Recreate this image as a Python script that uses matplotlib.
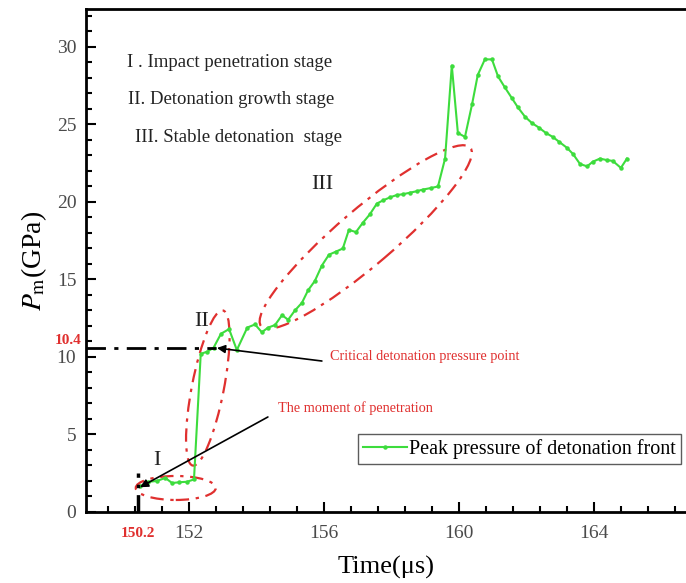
import matplotlib
matplotlib.use("Agg")
import matplotlib.pyplot as plt
from matplotlib.patches import Ellipse
from matplotlib.transforms import IdentityTransform, blended_transform_factory
from matplotlib.ticker import MultipleLocator, AutoMinorLocator

plt.rcParams["font.family"] = ["Liberation Serif", "DejaVu Serif"]
plt.rcParams["mathtext.fontset"] = "stix"

# peak pressure of the detonation front
time_us = [150.55, 150.8, 151.05, 151.3, 151.5, 151.72, 151.94, 152.15,
           152.35, 152.55, 152.73, 152.95, 153.19, 153.42, 153.73, 153.96,
           154.16, 154.35, 154.55, 154.76, 154.94, 155.14, 155.35, 155.53,
           155.73, 155.94, 156.15, 156.36, 156.56, 156.74, 156.95, 157.15,
           157.36, 157.57, 157.75, 157.96, 158.16, 158.34, 158.55, 158.76,
           158.93, 159.17, 159.38, 159.59, 159.79, 159.97, 160.18, 160.39,
           160.56, 160.77, 160.98, 161.16, 161.36, 161.57, 161.75, 161.96,
           162.16, 162.37, 162.58, 162.78, 162.96, 163.2, 163.38, 163.59,
           163.8, 163.97, 164.18, 164.39, 164.56, 164.8, 164.98]
pressure_gpa = [1.65, 1.95, 2.0, 2.2, 1.87, 1.92, 1.95, 2.1,
                10.2, 10.35, 10.6, 11.5, 11.8, 10.45, 11.9, 12.1,
                11.6, 11.9, 12.06, 12.7, 12.4, 13.0, 13.5, 14.3,
                14.9, 15.9, 16.6, 16.8, 17.0, 18.2, 18.06, 18.65,
                19.2, 19.9, 20.1, 20.3, 20.45, 20.5, 20.6, 20.7,
                20.8, 20.9, 21.0, 22.8, 28.8, 24.45, 24.2, 26.3,
                28.2, 29.2, 29.2, 28.1, 27.4, 26.7, 26.1, 25.5,
                25.1, 24.8, 24.45, 24.2, 23.9, 23.5, 23.1, 22.45,
                22.3, 22.6, 22.8, 22.7, 22.65, 22.2, 22.8]

x_ticks = [152, 156, 160, 164]
y_ticks = [0, 5, 10, 15, 20, 25, 30]

# key points marked on the chart
t_penetration = 150.5       # where "150.2" is drawn
p_critical = 10.55          # where "10.4" is drawn
penetration_label = "150.2"
critical_label = "10.4"

stage_notes = ["I . Impact penetration stage",
               "II. Detonation growth stage",
               "III. Stable detonation  stage"]
stage_names = ["I", "II", "III"]
stage_name_pos = [(151.05, 3.35), (152.39, 12.3), (155.94, 21.1)]

# stage ellipses: centre (data), width/height in px, angle in deg
stage_ellipses = [((151.61, 1.55), 80, 24, 0),
                  ((152.56, 8.0), 158, 32, 79),
                  ((157.24, 17.74), 275, 56, 40.5)]

GREEN = "#3ddc3d"
RED = "#e0302f"

fig = plt.figure(figsize=(6.86, 5.83), dpi=100)
ax = fig.add_axes([86 / 686, 1 - 512 / 583, 600 / 686, 503 / 583])

ax.plot(time_us, pressure_gpa, color=GREEN, lw=1.5, marker="o", ms=2.2,
        label="Peak pressure of detonation front")

ax.set_xlim(148.95, 166.73)
ax.set_ylim(0, 32.45)
ax.xaxis.set_major_locator(MultipleLocator(4))
ax.xaxis.set_minor_locator(AutoMinorLocator(5))
ax.set_xticks(x_ticks)
ax.set_yticks(y_ticks)
ax.yaxis.set_minor_locator(MultipleLocator(1))
ax.tick_params(which="both", direction="in", width=1.5, labelsize=14,
               labelcolor="#4a4a4a")
ax.tick_params(which="major", length=7)
ax.tick_params(which="minor", length=4)
ax.tick_params(axis="x", pad=9)
ax.tick_params(axis="y", pad=7)
for side in ["left", "bottom", "top"]:
    ax.spines[side].set_linewidth(2)
ax.spines["right"].set_visible(False)

ax.set_xlabel("Time(μs)", fontsize=19)
ax.set_ylabel(r"$P_\mathrm{m}$(GPa)", fontsize=20)
ax.xaxis.set_label_coords(0.5, -0.088)
ax.yaxis.set_label_coords(-0.062, 0.5)

# critical pressure guide line and penetration marker
ax.plot([148.95, 152.8], [p_critical, p_critical], color="black", lw=2,
        linestyle=(0, (7, 3, 1.5, 3)))
ax.plot([t_penetration, t_penetration], [0, 2.5], color="black", lw=2.5,
        linestyle=(0, (5, 2, 1, 2)))
yblend = blended_transform_factory(ax.transAxes, ax.transData)
xblend = blended_transform_factory(ax.transData, ax.transAxes)
ax.text(-0.008, p_critical + 0.1, critical_label, transform=yblend,
        ha="right", va="bottom", color=RED, fontsize=11, fontweight="bold")
ax.text(t_penetration, -0.03, penetration_label, transform=xblend,
        ha="center", va="top", color=RED, fontsize=11, fontweight="bold")

# stage ellipses drawn in pixel space so the tilt matches the picture
for (cx, cy), w, h, ang in stage_ellipses:
    px, py = ax.transData.transform((cx, cy))
    ax.add_patch(Ellipse((px, py), w, h, angle=ang, fill=False, edgecolor=RED,
                         lw=1.6, linestyle=(0, (6, 3, 1.5, 3)),
                         transform=IdentityTransform(), clip_on=False))

for name, (tx, ty) in zip(stage_names, stage_name_pos):
    ax.text(tx, ty, name, fontsize=16, ha="center", va="center", color="#222222")

note_pos = [(0.068, 0.893), (0.070, 0.821), (0.082, 0.744)]
for note, (nx, ny) in zip(stage_notes, note_pos):
    ax.text(nx, ny, note, transform=ax.transAxes, fontsize=13.5,
            ha="left", va="center", color="#222222")

arrow = dict(arrowstyle="-|>", color="black", lw=1.2, mutation_scale=12,
             shrinkA=0, shrinkB=0)
ax.annotate("", xy=(152.83, 10.58), xytext=(155.94, 9.74), arrowprops=arrow)
ax.annotate("", xy=(150.55, 1.6), xytext=(154.34, 6.13), arrowprops=arrow)
ax.text(156.18, 10.06, "Critical detonation pressure point", color=RED,
        fontsize=10.3, ha="left", va="center")
ax.text(154.64, 6.7, "The moment of penetration", color=RED,
        fontsize=10.3, ha="left", va="center")

leg = ax.legend(loc="lower right", bbox_to_anchor=(0.992, 0.095), fontsize=14.5,
                frameon=True, fancybox=False, handlelength=2.2,
                handletextpad=0.1, borderpad=0.25, borderaxespad=0)
leg.get_frame().set_edgecolor("#333333")
leg.get_frame().set_linewidth(1.0)

fig.savefig("out.png", dpi=100)
